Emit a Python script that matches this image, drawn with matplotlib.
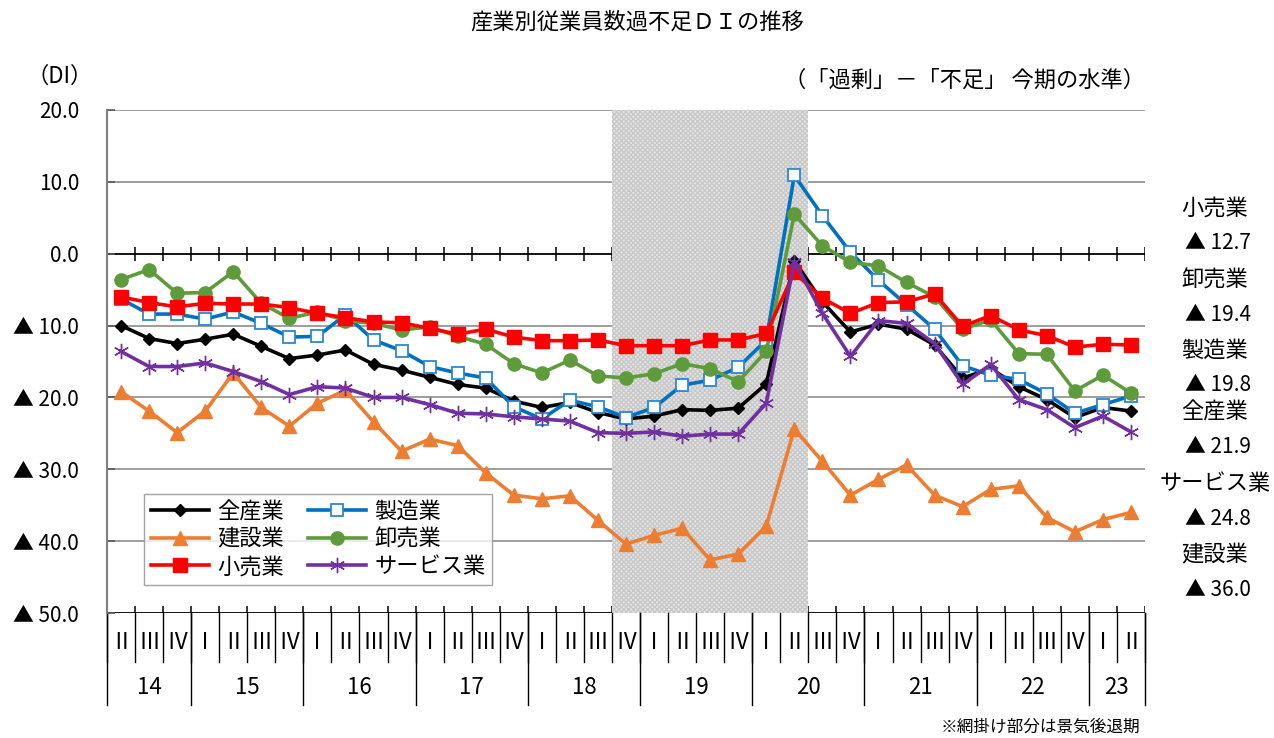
import matplotlib
matplotlib.use("Agg")
import matplotlib.pyplot as plt
import matplotlib.transforms as mtransforms

plt.rcParams['font.family'] = ['Noto Sans CJK JP', 'DejaVu Sans']

# quarters 2014 II .. 2023 II
quarters = ["Ⅱ", "Ⅲ", "Ⅳ"] + ["Ⅰ", "Ⅱ", "Ⅲ", "Ⅳ"] * 8 + ["Ⅰ", "Ⅱ"]
years = ["14", "15", "16", "17", "18", "19", "20", "21", "22", "23"]
year_counts = [3, 4, 4, 4, 4, 4, 4, 4, 4, 2]

all_ind = [-10.0, -11.8, -12.5, -11.9, -11.2, -12.9, -14.6, -14.1, -13.4, -15.4,
           -16.2, -17.2, -18.2, -18.7, -20.5, -21.4, -20.7, -22.1, -23.0, -22.6,
           -21.7, -21.8, -21.5, -18.1, -1.0, -6.7, -10.9, -9.8, -10.5, -12.7,
           -17.3, -16.0, -18.5, -20.3, -22.8, -21.4, -21.9]
manuf = [-6.3, -8.4, -8.4, -9.1, -8.1, -9.7, -11.6, -11.5, -8.5, -12.0,
         -13.5, -15.7, -16.6, -17.3, -21.3, -23.0, -20.4, -21.3, -22.8, -21.4,
         -18.3, -17.6, -15.8, -12.0, 10.9, 5.3, 0.2, -3.7, -7.1, -10.5,
         -15.6, -16.9, -17.5, -19.5, -22.2, -21.0, -19.8]
constr = [-19.2, -21.9, -24.9, -21.9, -16.6, -21.4, -24.0, -20.8, -19.0, -23.4,
          -27.5, -25.8, -26.7, -30.5, -33.6, -34.1, -33.7, -37.1, -40.4, -39.2,
          -38.2, -42.6, -41.8, -37.9, -24.4, -28.9, -33.6, -31.4, -29.4, -33.6,
          -35.2, -32.8, -32.3, -36.7, -38.7, -37.0, -36.0]
wholesale = [-3.6, -2.2, -5.5, -5.4, -2.5, -6.9, -9.0, -8.1, -9.3, -9.7,
             -10.6, -10.2, -11.5, -12.6, -15.3, -16.6, -14.8, -17.0, -17.3, -16.7,
             -15.3, -16.0, -17.8, -13.6, 5.5, 1.1, -1.2, -1.7, -4.0, -6.0,
             -10.5, -9.2, -13.9, -14.0, -19.1, -16.9, -19.4]
retail = [-6.0, -6.8, -7.4, -6.9, -7.0, -7.0, -7.5, -8.3, -8.9, -9.5,
          -9.6, -10.4, -11.2, -10.5, -11.6, -12.1, -12.1, -12.0, -12.8, -12.8,
          -12.8, -12.0, -12.0, -11.1, -2.6, -6.2, -8.3, -6.8, -6.7, -5.6,
          -10.1, -8.6, -10.6, -11.4, -13.0, -12.6, -12.7]
service = [-13.6, -15.7, -15.7, -15.2, -16.4, -17.8, -19.6, -18.5, -18.7, -20.0,
           -20.0, -21.0, -22.2, -22.3, -22.7, -23.0, -23.3, -24.9, -25.0, -24.8,
           -25.4, -25.1, -25.1, -20.8, -1.1, -8.3, -14.3, -9.3, -9.7, -12.5,
           -18.2, -15.4, -20.3, -21.7, -24.2, -22.6, -24.8]

recession_start = 18   # 2018 IV
recession_end = 24     # 2020 II

right_labels = ["小売業", "卸売業", "製造業", "全産業", "サービス業", "建設業"]
right_values = ["▲ 12.7", "▲ 19.4", "▲ 19.8", "▲ 21.9", "▲ 24.8", "▲ 36.0"]

fig = plt.figure(figsize=(12.74, 7.38), dpi=100)
ax = fig.add_axes([107 / 1274, 125 / 738, 1038 / 1274, 503 / 738])

n = len(quarters)
x = list(range(n))

ax.set_xlim(-0.5, n - 0.5)
ax.set_ylim(-50, 20)

# gridlines
for g in [20, 10, -10, -20, -30, -40]:
    ax.axhline(g, color="#8c8c8c", lw=1.2, zorder=1)
ax.axhline(0, color="black", lw=1.3, zorder=1)
ax.axhline(-50, color="black", lw=1.3, zorder=1)
bounds = [b - 0.5 for b in range(n + 1)]
ax.vlines(bounds[1:], -1.0, 1.0, color="black", lw=1.1, zorder=1)
ax.vlines(bounds[1:], -50, -49.0, color="black", lw=1.1, zorder=1)

# recession shading
ax.axvspan(recession_start - 0.5, recession_end + 0.5, facecolor="#e6e6e6",
           edgecolor="#c8c8c8", hatch="xxxxxxx", lw=0, zorder=2)

series = [
    ("全産業", all_ind, dict(color="black", marker="D", ms=6.5, mfc="black", mec="black")),
    ("製造業", manuf, dict(color="#0070C0", marker="s", ms=9, mfc="white", mec="#2b86d6", mew=1.3)),
    ("建設業", constr, dict(color="#ED7D31", marker="^", ms=10, mfc="#ED7D31", mec="#ED7D31")),
    ("卸売業", wholesale, dict(color="#5E9B3A", marker="o", ms=9.5, mfc="#5E9B3A", mec="#5E9B3A")),
    ("小売業", retail, dict(color="#FF0000", marker="s", ms=10, mfc="#FF0000", mec="#FF0000")),
    ("サービス業", service, dict(color="#7030A0", marker=(6, 2, 0), ms=11, mec="#7030A0", mew=1.0)),
]
handles = {}
for name, vals, st in series:
    h, = ax.plot(x, vals, lw=2.6, label=name, zorder=3, **st)
    handles[name] = h

order = ["全産業", "建設業", "小売業", "製造業", "卸売業", "サービス業"]
leg = ax.legend([handles[k] for k in order], order, ncol=2, loc="lower left",
                bbox_to_anchor=(0.025, 0.034, 0.357, 0.21), mode="expand",
                fontsize=16, frameon=True, fancybox=False, edgecolor="#8c8c8c",
                handlelength=2.6, borderpad=0.3, labelspacing=0.2,
                columnspacing=1.0, handletextpad=0.4)
leg.get_frame().set_linewidth(1.0)
leg.set_zorder(5)

# y axis
yt = [20, 10, 0, -10, -20, -30, -40, -50]
ax.set_yticks(yt)
ax.set_yticklabels([f"{v:.1f}" if v >= 0 else f"▲ {abs(v):.1f}" for v in yt], fontsize=15)
ax.tick_params(axis="y", direction="in", length=6, width=1.2, color="#595959", pad=20)
ax.set_xticks([])
for s in ["top", "right", "bottom"]:
    ax.spines[s].set_visible(False)
ax.spines["left"].set_color("#7f7f7f")
ax.spines["left"].set_linewidth(1.5)

# multi-level category labels
trans = mtransforms.blended_transform_factory(ax.transData, ax.transAxes)
for i, q in enumerate(quarters):
    ax.text(i, -0.059, q, transform=trans, ha="center", va="center", fontsize=16)
for b in bounds:
    ax.plot([b, b], [0, -0.097], transform=trans, color="black", lw=1.0, clip_on=False)
pos = -0.5
ax.plot([pos, pos], [0, -0.183], transform=trans, color="black", lw=1.0, clip_on=False)
for yr, c in zip(years, year_counts):
    ax.text(pos + c / 2, -0.149, yr, transform=trans, ha="center", va="center", fontsize=16)
    pos += c
    ax.plot([pos, pos], [0, -0.183], transform=trans, color="black", lw=1.0, clip_on=False)

# texts
fig.text(0.5, 1 - 22 / 738, "産業別従業員数過不足ＤＩの推移", ha="center", va="center", fontsize=16)
fig.text(60 / 1274, 1 - 76 / 738, "（DI）", ha="center", va="center", fontsize=16)
fig.text(1145 / 1274, 1 - 80 / 738, "（「過剰」－「不足」 今期の水準）", ha="right", va="center", fontsize=16)
fig.text(1140 / 1274, 1 - 727 / 738, "※網掛け部分は景気後退期", ha="right", va="center", fontsize=12)

label_y = [208, 280, 350, 412, 484, 555]
for lab, val, yy in zip(right_labels, right_values, label_y):
    fig.text(1215 / 1274, 1 - yy / 738, lab, ha="center", va="center", fontsize=16)
    fig.text(1218 / 1274, 1 - (yy + 35) / 738, val, ha="center", va="center", fontsize=15)

fig.savefig("out.png", dpi=100)
